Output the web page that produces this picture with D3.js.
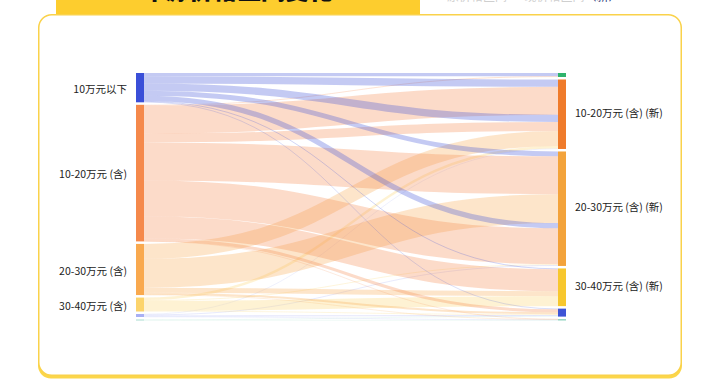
<!DOCTYPE html>
<html><head><meta charset="utf-8">
<script src="https://cdn.jsdelivr.net/npm/d3@7"></script>
<style>
html,body{margin:0;padding:0;background:#fff;}
svg{display:block;font-family:"Noto Sans CJK SC","Noto Sans",sans-serif;}
</style></head>
<body><svg id="c" width="720" height="380"></svg>
<script>
// ---- data ----
const titleText = "车源价格区间变化";
const noteText = "原价格区间 → 现价格区间";
const noteMark = "（新）";
const leftNames = ["10万元以下", "10-20万元 (含)", "20-30万元 (含)", "30-40万元 (含)", "40-50万元 (含)", "50万元以上"];
const leftColors = ["#3a4fd8", "#f5894b", "#f9a94e", "#fcd46c", "#a9b0f4", "#a8dccf"];
const rightNames = ["40-50万元 (含) (新)", "10-20万元 (含) (新)", "20-30万元 (含) (新)", "30-40万元 (含) (新)", "10万元以下 (新)", "50万元以上 (新)"];
const rightColors = ["#2fb36c", "#ef7b2b", "#f3a33b", "#f7c72e", "#3e54d6", "#8fd3c0"];
// links, listed in the order they stack on the target side
const linkSource = [0,1, 0,1,0,1,2,3,4, 0,1,2,0,1,3,4, 0,1,2,3, 0,1,2,3,4,5, 1,2,4,5];
const linkTarget = [0,0, 1,1,1,1,1,1,1, 2,2,2,2,2,2,2, 3,3,3,3, 4,4,4,4,4,4, 5,5,5,5];
const linkValue  = [3.2,0.8, 7.4,28,7.3,9,15,2.5,0.5, 4.8,38,29,5.3,36,0.8,0.9, 0.8,22,5,10, 0.6,3,2,0.7,1.2,0.5, 0.2,0.3,0.4,0.5];

// ---- layout ----
const svg = d3.select("#c");
const yTop = 73, yBottom = 320.5, pad = 2.5;
const leftX = [136, 144], rightX = [558, 566];

// card
svg.append("rect").attr("x",38).attr("y",17.5).attr("width",644).attr("height",361).attr("rx",13).attr("fill","#fbd64a");
svg.append("rect").attr("x",38.75).attr("y",14.75).attr("width",642.5).attr("height",360.5).attr("rx",13)
  .attr("fill","#fff").attr("stroke","#fad24a").attr("stroke-width",1.5);
// header tab
svg.append("rect").attr("x",56).attr("y",-10).attr("width",364).attr("height",24).attr("fill","#fdcd2e");
svg.append("text").attr("x",237).attr("y",-1.5).attr("text-anchor","middle")
  .attr("font-size",24).attr("font-weight",900).attr("fill","#111").text(titleText);
const note = svg.append("text").attr("x",447).attr("y",1).attr("font-size",12).attr("fill","#cfcfcf");
note.append("tspan").text(noteText);
note.append("tspan").attr("fill","#2d3b7a").text(noteMark);

const total = d3.sum(linkValue);
const nLeft = leftNames.length, nRight = rightNames.length;
const ky = d3.scaleLinear().domain([0,total]).range([0, (yBottom-yTop) - pad*(Math.max(nLeft,nRight)-1)]);

function buildNodes(names, colors, side) {
  const nodes = names.map((n,i)=>({name:n,color:colors[i],index:i,value:0}));
  linkValue.forEach((v,k)=>{ nodes[side==="L"?linkSource[k]:linkTarget[k]].value += v; });
  let y = yTop;
  nodes.forEach(nd=>{ nd.y0 = y; nd.y1 = y + ky(nd.value); y = nd.y1 + pad; });
  return nodes;
}
const L = buildNodes(leftNames, leftColors, "L");
const R = buildNodes(rightNames, rightColors, "R");

const links = linkValue.map((v,k)=>({s:linkSource[k], t:linkTarget[k], value:v, idx:k, width:ky(v)}));
// target side stacking: data order
const tOff = R.map(n=>n.y0);
links.forEach(l=>{ l.y1 = tOff[l.t] + l.width/2; tOff[l.t] += l.width; });
// source side stacking: by target, then data order
const sOff = L.map(n=>n.y0);
links.slice().sort((a,b)=> (a.s-b.s) || (a.t-b.t) || (a.idx-b.idx))
  .forEach(l=>{ l.y0 = sOff[l.s] + l.width/2; sOff[l.s] += l.width; });

const linkGen = d3.linkHorizontal().x(d=>d[0]).y(d=>d[1]);
svg.append("g").attr("fill","none")
  .selectAll("path").data(links).join("path")
  .attr("d", l=>linkGen({source:[leftX[1], l.y0], target:[rightX[0], l.y1]}))
  .attr("stroke", l=>L[l.s].color)
  .attr("stroke-opacity", 0.3)
  .attr("stroke-width", l=>Math.max(0.6, l.width));

svg.append("g").selectAll("rect").data(L).join("rect")
  .attr("x",leftX[0]).attr("width",leftX[1]-leftX[0])
  .attr("y",d=>d.y0).attr("height",d=>Math.max(0.8,d.y1-d.y0)).attr("fill",d=>d.color);
svg.append("g").selectAll("rect").data(R).join("rect")
  .attr("x",rightX[0]).attr("width",rightX[1]-rightX[0])
  .attr("y",d=>d.y0).attr("height",d=>Math.max(0.8,d.y1-d.y0)).attr("fill",d=>d.color);

svg.append("g").selectAll("text").data(L.filter(d=>d.y1-d.y0>10)).join("text")
  .attr("x",127).attr("y",d=>(d.y0+d.y1)/2+1.5).attr("dy","0.35em").attr("text-anchor","end")
  .attr("font-size",10.5).attr("fill","#222").text(d=>d.name);
svg.append("g").selectAll("text").data(R.filter(d=>d.y1-d.y0>10)).join("text")
  .attr("x",575).attr("y",d=>(d.y0+d.y1)/2-1).attr("dy","0.35em").attr("text-anchor","start")
  .attr("font-size",10.5).attr("fill","#222").text(d=>d.name);
</script></body></html>
